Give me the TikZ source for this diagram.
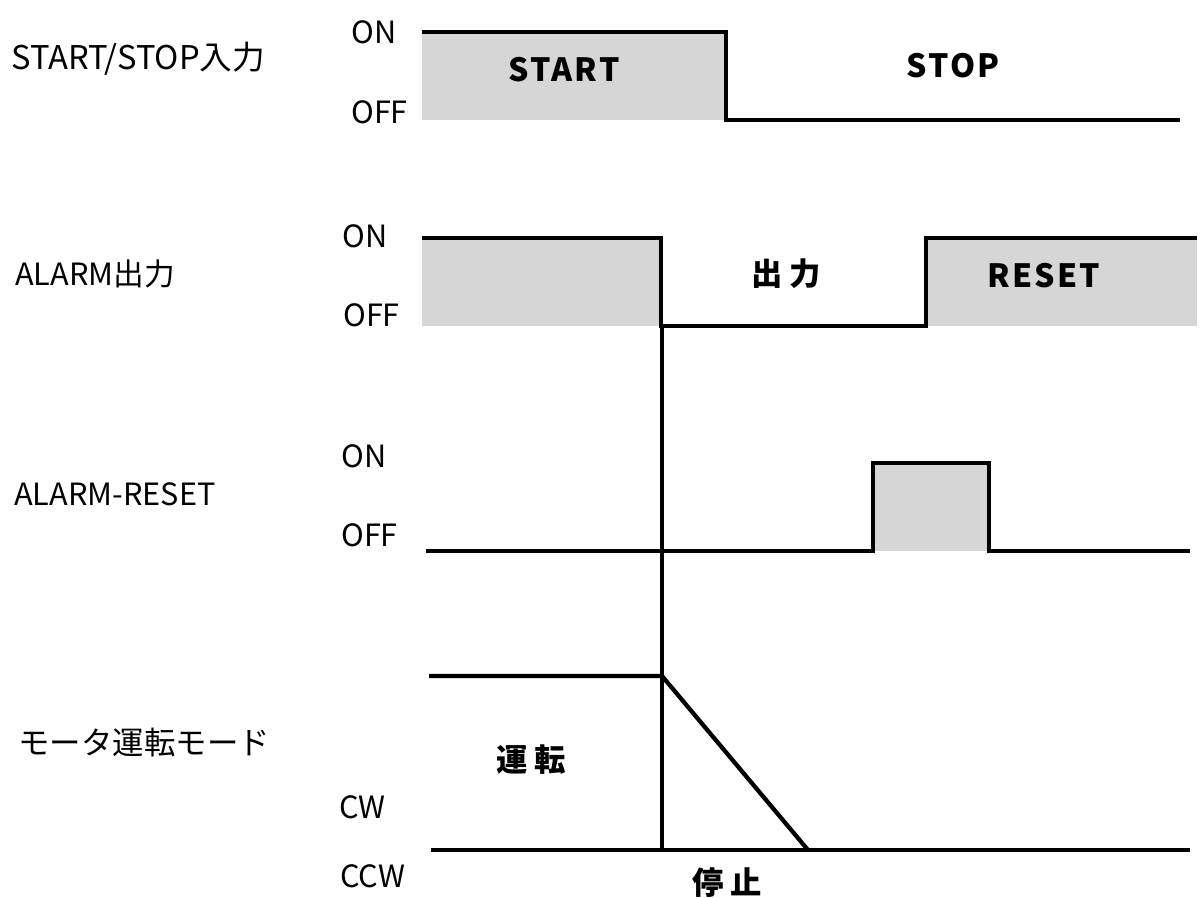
\documentclass[tikz,border=0pt]{standalone}
\usepackage{fontspec}
\setmainfont{Noto Sans CJK JP}
\newfontfamily\lblfont[LetterSpace=7]{Noto Sans CJK JP}
\definecolor{fillgray}{RGB}{214,214,214}
\newcommand{\cjkgap}{\hspace{5pt}}
\tikzset{
  lab/.style={font=\fontsize{23}{27}\selectfont, inner sep=0pt, anchor=base west},
  bl/.style={font=\lblfont\bfseries\fontsize{24}{28}\selectfont, inner sep=0pt, anchor=base},
  bj/.style={font=\bfseries\fontsize{23.5}{28}\selectfont, inner sep=0pt, anchor=base},
  sig/.style={line width=2.3pt, line join=miter},
  thick line/.style={line width=3.2pt},
  gfill/.style={fill=fillgray, draw=none}
}
\begin{document}
\begin{tikzpicture}[x=0.75pt,y=-0.75pt]
\useasboundingbox (0,0) rectangle (1203,897);
% fills
\path[gfill] (422,32) rectangle (726,120);
\path[gfill] (422,238) rectangle (661,326);
\path[gfill] (926,238) rectangle (1197,326);
\path[gfill] (873,463) rectangle (989,551);
% signal 1
\coordinate (s1a) at (422,32); \coordinate (s1b) at (726,32);
\coordinate (s1c) at (726,120); \coordinate (s1d) at (1180,120);
\draw[sig] (s1a) -- (s1b) -- (s1c) -- (s1d);
% signal 2
\coordinate (s2a) at (422,238); \coordinate (s2b) at (661,238);
\coordinate (s2c) at (661,326); \coordinate (s2d) at (926,326);
\coordinate (s2e) at (926,238); \coordinate (s2f) at (1197,238);
\draw[sig] (s2a) -- (s2b) -- (s2c) -- (s2d) -- (s2e) -- (s2f);
% signal 3
\coordinate (s3a) at (426,551); \coordinate (s3b) at (873,551);
\coordinate (s3c) at (873,463); \coordinate (s3d) at (989,463);
\coordinate (s3e) at (989,551); \coordinate (s3f) at (1190,551);
\draw[sig] (s3a) -- (s3b) -- (s3c) -- (s3d) -- (s3e) -- (s3f);
% alarm vertical
\coordinate (va) at (662,326); \coordinate (vb) at (662,850);
\draw[thick line] (va) -- (vb);
% motor
\coordinate (m1) at (429,676); \coordinate (m2) at (662,676);
\coordinate (m3) at (808,850);
\coordinate (b1) at (431,850); \coordinate (b2) at (1190,850);
\draw[thick line, line join=miter] (m1) -- (m2) -- (m3);
\draw[thick line] (b1) -- (b2);
% left labels
\node[lab, font=\fontsize{24.5}{28}\selectfont] (t1) at (11,69) {START/STOP入力};
\node[lab] (t2) at (15,285) {ALARM出力};
\node[lab] (t3) at (14,505) {ALARM-RESET};
\node[lab, font=\fontsize{23.6}{28}\selectfont] (t4) at (18,754) {モータ運転モード};
% level labels
\node[lab] (on1) at (351,43) {ON};
\node[lab] (off1) at (351,123) {OFF};
\node[lab] (on2) at (342,247) {ON};
\node[lab] (off2) at (343,326) {OFF};
\node[lab] (on3) at (341,467) {ON};
\node[lab] (off3) at (341,546) {OFF};
\node[lab] (cw) at (339,818) {CW};
\node[lab] (ccw) at (340,887) {CCW};
% state labels
\node[bl] (start) at (564,81) {START};
\node[bl] (stop) at (953,77) {STOP};
\node[bl] (reset) at (1044,287) {RESET};
\node[bj] (out) at (786,285) {出\cjkgap 力};
\node[bj] (run) at (531,771) {運\cjkgap 転};
\node[bj] (halt) at (727,894) {停\cjkgap 止};
\end{tikzpicture}
\end{document}
